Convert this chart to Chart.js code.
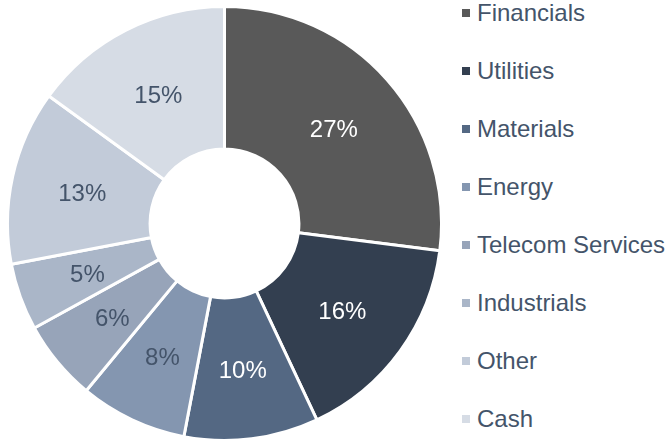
<!DOCTYPE html>
<html>
<head>
<meta charset="utf-8">
<script src="https://cdn.jsdelivr.net/npm/chart.js@4.4.1/dist/chart.umd.min.js"></script>
<style>
  html, body { margin: 0; padding: 0; background: #ffffff; overflow: hidden; }
  #wrap { position: relative; width: 667px; height: 441px; overflow: hidden; }
  #chartBox { position: absolute; left: 6px; top: 5px; width: 437px; height: 437px; }
  #legend { position: absolute; left: 462px; top: 0; margin: 0; padding: 0; list-style: none; }
  #legend li { position: absolute; left: 0; height: 24px; display: flex; align-items: center; white-space: nowrap;
    font-family: "Liberation Sans", Arial, sans-serif; font-size: 24px; color: #44546a; }
  #legend li span.box { display: inline-block; width: 8px; height: 8px; margin-right: 7px; }
</style>
</head>
<body>
<div id="wrap">
  <div id="chartBox"><canvas id="c"></canvas></div>
  <ul id="legend"></ul>
</div>
<script>
const categories = ["Financials", "Utilities", "Materials", "Energy", "Telecom Services", "Industrials", "Other", "Cash"];
const values = [27, 16, 10, 8, 6, 5, 13, 15];
const colors = ["#595959", "#333f50", "#546883", "#8496b0", "#97a4b9", "#aab6c8", "#c2cbd9", "#d6dce5"];
const labelColors = ["#ffffff", "#ffffff", "#ffffff", "#44546a", "#44546a", "#44546a", "#44546a", "#44546a"];

const sliceLabels = {
  id: 'sliceLabels',
  afterDatasetsDraw(chart) {
    const ctx = chart.ctx;
    const meta = chart.getDatasetMeta(0);
    ctx.save();
    ctx.font = '24px "Liberation Sans", Arial, sans-serif';
    ctx.textAlign = 'center';
    ctx.textBaseline = 'middle';
    meta.data.forEach((arc, i) => {
      const p = arc.getCenterPoint();
      ctx.fillStyle = labelColors[i];
      ctx.fillText(values[i] + '%', p.x, p.y + 3);
    });
    ctx.restore();
  }
};

const htmlLegend = {
  id: 'htmlLegend',
  afterUpdate(chart) {
    const ul = document.getElementById('legend');
    ul.innerHTML = '';
    const items = chart.options.plugins.legend.labels.generateLabels(chart);
    items.forEach((item, i) => {
      const li = document.createElement('li');
      li.style.top = (1 + 58 * i) + 'px';
      const box = document.createElement('span');
      box.className = 'box';
      box.style.background = item.fillStyle;
      li.appendChild(box);
      li.appendChild(document.createTextNode(item.text));
      ul.appendChild(li);
    });
  }
};

new Chart(document.getElementById('c'), {
  type: 'doughnut',
  data: {
    labels: categories,
    datasets: [{
      data: values,
      backgroundColor: colors,
      borderColor: '#ffffff',
      borderWidth: 3,
      hoverOffset: 0
    }]
  },
  options: {
    responsive: true,
    maintainAspectRatio: false,
    animation: false,
    cutout: '34.3%',
    layout: { padding: 0 },
    plugins: {
      legend: { display: false },
      tooltip: { enabled: false }
    }
  },
  plugins: [sliceLabels, htmlLegend]
});
</script>
</body>
</html>
